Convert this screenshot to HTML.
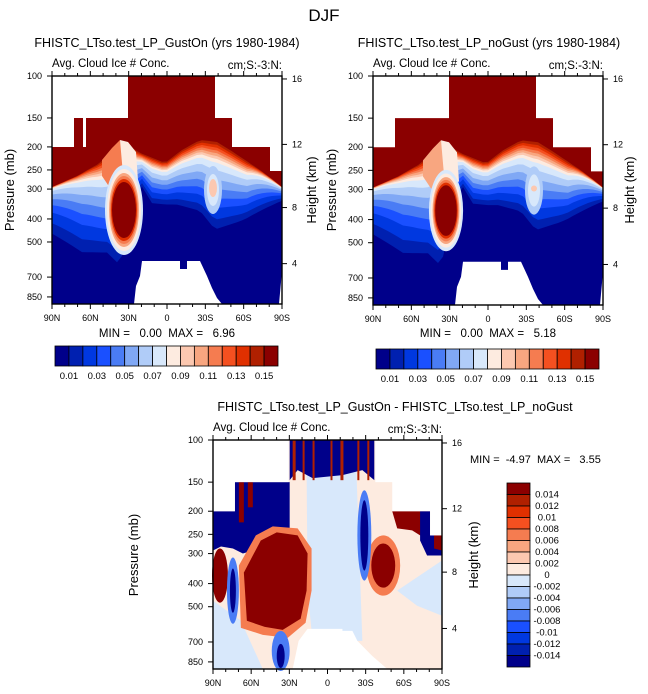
<!DOCTYPE html>
<html><head><meta charset="utf-8"><style>
html,body{margin:0;padding:0;background:#fff;}
svg{display:block;font-family:"Liberation Sans",sans-serif;}
text{white-space:pre;}
</style></head><body>
<svg id="c" width="648" height="694" viewBox="0 0 648 694" xmlns="http://www.w3.org/2000/svg"></svg>
<script>
const NS="http://www.w3.org/2000/svg";
const latLabels=["90N","60N","30N","0","30S","60S","90S"];
const presLabels=["100","150","200","250","300","400","500","700","850"];
const presFrac=[0,0.184,0.311,0.412,0.496,0.627,0.728,0.882,0.969];
const hgtLabels=["16","12","8","4"];
const hgtFrac=[0.013,0.3,0.577,0.823];
const topLevels=["0.01","0.03","0.05","0.07","0.09","0.11","0.13","0.15"];
const diffLevels=["0.014","0.012","0.01","0.008","0.006","0.004","0.002","0","-0.002","-0.004","-0.006","-0.008","-0.01","-0.012","-0.014"];
const cmapTop=["#00008a","#0020b0","#0038e0","#1a50ff","#4a7cf5","#80a8f5","#b0ccf8","#d8e8fb","#fdebe0","#fcc8b0","#f8a680","#f57c50","#f55020","#e03000","#b02000","#8b0000"];
const bandFrac=[1,0.92,0.82,0.7,0.6,0.5,0.4,0.3,0.22,0.18,0.15,0.12,0.09,0.06,0.03,0];
const minMaxTop=[["0.00","6.96"],["0.00","5.18"]];
const minMaxDiff=["-4.97","3.55"];
const svg=document.getElementById('c');
function el(tag,attrs,parent){const e=document.createElementNS(NS,tag);for(const k in attrs)e.setAttribute(k,attrs[k]);(parent||svg).appendChild(e);return e;}
function txt(x,y,s,size,anchor,parent,extra){const t=el('text',Object.assign({x:x,y:y,'font-size':size,'text-anchor':anchor||'start',fill:'#000'},extra||{}),parent);t.textContent=s;return t;}

const topWhite="0,0 76,0 76,42 22,42 22,71 0,71";
const topWhiteR="163,0 230,0 230,95 218,95 218,71 180,71 180,42 163,42";
const redLower=[[0,111],[25,100],[48,87],[68,64],[88,77],[113,87],[130,74],[148,64],[165,66],[178,74],[193,84],[208,94],[220,103],[230,111]];
const blueEdge=[[0,167],[30,187],[55,185],[68,200],[78,150],[88,110],[100,131],[125,133],[148,141],[163,161],[188,151],[218,134],[230,127]];
function curveY(c,x){for(let i=0;i<c.length-1;i++){if(x>=c[i][0]&&x<=c[i+1][0]){const t=(x-c[i][0])/(c[i+1][0]-c[i][0]);return c[i][1]+t*(c[i+1][1]-c[i][1]);}}return c[c.length-1][1];}
function powAt(x){if(x<55)return 2.2-1.2*x/55;if(x>195)return 1+0.8*(x-195)/35;return 1;}
const topo="82,228 84,210 88,200 90,185 128,185 128,193 135,193 135,185 148,185 155,200 160,212 165,222 170,228";
function field(g,variant){
  el('rect',{x:0,y:0,width:230,height:228,fill:cmapTop[0]},g);
  for(let i=1;i<cmapTop.length;i++){
    let pts="0,0";
    for(let x=0;x<=230;x+=5){const f=Math.pow(bandFrac[i],powAt(x));const y=curveY(redLower,x)*(1-f)+curveY(blueEdge,x)*f;pts+=" "+x+","+y.toFixed(1);}
    pts+=" 230,0";
    const p=el('polygon',{points:pts,fill:cmapTop[i]},g);
    
    
  }
  el('polygon',{points:"50,84 60,72 68,64 72,80 70,112 58,112 50,100",fill:variant?"#f8a680":"#f57c50"},g);
  el('polygon',{points:"68,64 76,66 84,76 86,105 72,110",fill:"#fdebe0"},g);
  const bx=variant?73:72, rr=variant?0.9:1;
  const blob=[["#d8e8fb",19,45],["#fdebe0",17,41],["#f8a680",15,37],["#f57c50",14,34],["#e03000",13,31],["#8b0000",12,28]];
  blob.forEach(b=>{const e=el('ellipse',{cx:bx,cy:134,rx:b[1]*rr,ry:b[2]*rr,fill:b[0]},g);});
  el('ellipse',{cx:161,cy:114,rx:9,ry:24,fill:"#b0ccf8"},g);
  el('ellipse',{cx:161,cy:114,rx:6,ry:16,fill:"#d8e8fb"},g);
  el('ellipse',{cx:161,cy:112,rx:variant?3:4,ry:variant?3:9,fill:"#fcc8b0"},g);
  el('polygon',{points:topWhite,fill:"#fff"},g);
  el('polygon',{points:topWhiteR,fill:"#fff"},g);
  if(!variant) el('rect',{x:31,y:42,width:3,height:29,fill:"#fff"},g);
  el('polygon',{points:topo,fill:"#fff"},g);
  el('polygon',{points:"227,228 230,195 230,228",fill:"#fff"},g);
}
function diffField(g){
  el('rect',{x:0,y:0,width:230,height:228,fill:"#fdebe0"},g);
  el('polygon',{points:"94,30 144,30 150,200 100,200 95,150",fill:"#d8e8fb"},g);
  el('polygon',{points:"0,160 28,180 50,228 0,228",fill:"#d8e8fb"},g);
  el('polygon',{points:"185,150 230,120 230,175 205,165",fill:"#d8e8fb"},g);
  el('polygon',{points:"0,71 22,71 22,42 77,42 77,90 60,92 50,100 40,110 30,113 20,108 8,106 0,110",fill:"#00008a"},g);
  el('polygon',{points:"77,0 162,0 162,40 150,30 130,35 100,38 85,30 77,40",fill:"#00008a"},g);
  [[80,3],[90,2],[100,2],[118,2],[128,3],[145,2],[155,2]].forEach(s=>el('rect',{x:s[0],y:0,width:s[1],height:40,fill:"#b02000"},g));
  [[26,42,5,40],[35,42,5,25]].forEach(s=>el('rect',{x:s[0],y:s[1],width:s[2],height:s[3],fill:"#8b0000"},g));
  el('polygon',{points:"26,125 43,95 60,86 85,88 99,108 99,150 93,182 75,197 50,194 28,187",fill:"#f57c50"},g);
  el('polygon',{points:"31,132 48,100 64,92 85,95 95,113 94,150 88,178 70,189 52,186 34,180",fill:"#8b0000"},g);
  el('ellipse',{cx:7,cy:135,rx:8,ry:27,fill:"#8b0000"},g);
  el('ellipse',{cx:171,cy:125,rx:17,ry:30,fill:"#f57c50"},g);
  el('ellipse',{cx:171,cy:125,rx:12,ry:22,fill:"#8b0000"},g);
  el('polygon',{points:"180,71 218,71 218,95 208,95 200,90 185,88",fill:"#8b0000"},g);
  el('polygon',{points:"208,71 218,71 218,95 230,95 230,115 215,115 208,100",fill:"#00008a"},g);
  el('polygon',{points:"222,95 230,95 230,110 222,108",fill:"#8b0000"},g);
  el('ellipse',{cx:152,cy:95,rx:7,ry:45,fill:"#4a7cf5"},g);
  el('ellipse',{cx:152,cy:95,rx:4,ry:35,fill:"#00008a"},g);
  el('ellipse',{cx:20,cy:150,rx:6,ry:33,fill:"#4a7cf5"},g);
  el('ellipse',{cx:20,cy:150,rx:3,ry:22,fill:"#00008a"},g);
  el('ellipse',{cx:68,cy:210,rx:9,ry:20,fill:"#4a7cf5"},g);
  el('ellipse',{cx:68,cy:215,rx:4,ry:12,fill:"#00008a"},g);
  el('polygon',{points:topWhite,fill:"#fff"},g);
  el('polygon',{points:topWhiteR,fill:"#fff"},g);
  el('polygon',{points:"80,228 86,200 95,188 130,188 130,190 140,190 145,200 160,215 175,228",fill:"#fff"},g);
}
function panel(x0,y0,w,h,name,drawFn,variant){
  const g=el('g',{transform:`translate(${x0},${y0}) scale(${w/230},${h/228})`});
  
  
  drawFn(g,variant);
  const ax=el('g',{});
  
  
  el('rect',{x:x0,y:y0,width:w,height:h,fill:'none',stroke:'#000','stroke-width':1.4},ax);
  for(let i=0;i<=18;i++){const x=x0+w*i/18;const L=i%3==0?5:3;
    el('line',{x1:x,y1:y0+h,x2:x,y2:y0+h+L,stroke:'#000'},ax);
    el('line',{x1:x,y1:y0,x2:x,y2:y0-L,stroke:'#000'},ax);}
  latLabels.forEach((s,i)=>txt(x0+w*i/6,y0+h+17,s,9,'middle',ax));
  presLabels.forEach((s,i)=>{const y=y0+h*presFrac[i];el('line',{x1:x0,y1:y,x2:x0-5,y2:y,stroke:'#000'},ax);txt(x0-10,y+3,s,9,'end',ax);});
  hgtLabels.forEach((s,i)=>{const y=y0+h*hgtFrac[i];el('line',{x1:x0+w,y1:y,x2:x0+w+5,y2:y,stroke:'#000'},ax);txt(x0+w+10,y+3,s,9,'start',ax);});
  txt(x0,y0-9,"Avg. Cloud Ice # Conc.",11.5,'start',ax);
  txt(x0+w,y0-7,"cm;S:-3:N:",11.5,'end',ax);
}
function ylab(x,y,s){return txt(x,y,s,13,'middle',svg,{transform:`rotate(-90 ${x} ${y})`});}
function hbar(x0,y0,w,h,labels){
  const g=el('g',{});
  const bw=w/cmapTop.length;
  cmapTop.forEach((c,i)=>el('rect',{x:x0+i*bw,y:y0,width:bw,height:h,fill:c,stroke:'#000','stroke-width':0.8},g));
  labels.forEach((s,i)=>txt(x0+bw*(2*i+1),y0+h+13,s,9.5,'middle',g));
}
const t0=txt(324,21,"DJF",17,'middle');
txt(167,47,"FHISTC_LTso.test_LP_GustOn (yrs 1980-1984)",12.5,'middle');
txt(489,47,"FHISTC_LTso.test_LP_noGust (yrs 1980-1984)",12.5,'middle');
panel(52,76,230,228,'gust-on',field,0);
panel(373,76,230,229,'no-gust',field,1);
ylab(14,190,"Pressure (mb)");ylab(316,190,"Height (km)");
ylab(336,190,"Pressure (mb)");ylab(634,190,"Height (km)");
txt(167,337,"MIN =   0.00  MAX =   "+minMaxTop[0][1],11.5,'middle');
txt(488,337,"MIN =   0.00  MAX =   "+minMaxTop[1][1],11.5,'middle');
hbar(55,346,223,20,topLevels);
hbar(376,349,223,20,topLevels);
txt(395,411,"FHISTC_LTso.test_LP_GustOn - FHISTC_LTso.test_LP_noGust",12.5,'middle');
panel(213,440,229,229,'difference',diffField,0);
ylab(138,555,"Pressure (mb)");ylab(478,555,"Height (km)");
txt(470,463,"MIN =  "+minMaxDiff[0]+"  MAX =   "+minMaxDiff[1],11,'start');
(function(){const g=el('g',{});
  const cols=cmapTop.slice().reverse();const x0=507,y0=483,bh=184/16;
  cols.forEach((c,i)=>el('rect',{x:x0,y:y0+i*bh,width:23,height:bh,fill:c,stroke:'#000','stroke-width':0.8},g));
  diffLevels.forEach((s,i)=>txt(547,y0+bh*(i+1)+3,s,9.5,'middle',g));})();
</script>
</body></html>
